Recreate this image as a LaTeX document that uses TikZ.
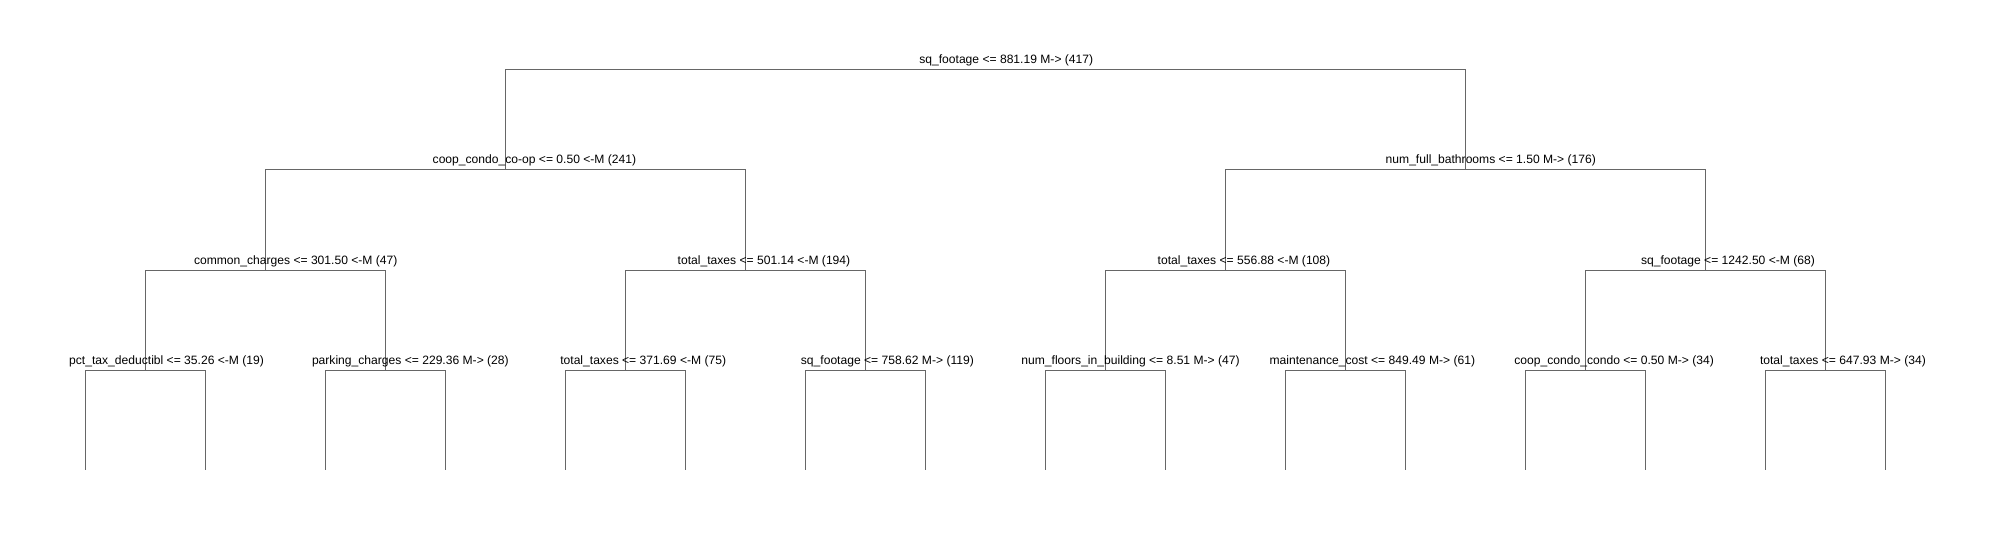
\documentclass[tikz,border=0pt]{standalone}
\usepackage{fontspec}
\setmainfont{Liberation Sans}
\tikzset{
  edge/.style={draw=black!60, line width=1pt},
  lab/.style={anchor=base west, inner sep=0pt, outer sep=0pt, text=black, font=\fontsize{12.1}{14}\selectfont}
}
\begin{document}
\begin{tikzpicture}[x=1pt,y=-1pt]
\useasboundingbox[fill=white] (0,0) rectangle (1993,540);
% split points
\coordinate (r) at (985.4,70);
\coordinate (a) at (505.4,170);  \coordinate (b) at (1465.4,170);
\coordinate (aa) at (265.4,270); \coordinate (ab) at (745.4,270);
\coordinate (ba) at (1225.4,270); \coordinate (bb) at (1705.4,270);
\coordinate (aaa) at (145.4,370); \coordinate (aab) at (385.4,370);
\coordinate (aba) at (625.4,370); \coordinate (abb) at (865.4,370);
\coordinate (baa) at (1105.4,370); \coordinate (bab) at (1345.4,370);
\coordinate (bba) at (1585.4,370); \coordinate (bbb) at (1825.4,370);
% leaves
\foreach \i in {0,...,15} { \coordinate (leaf\i) at ({85.4+120*\i},470); }
% edges
\draw[edge] (r) -| (a); \draw[edge] (r) -| (b);
\draw[edge] (a) -| (aa); \draw[edge] (a) -| (ab);
\draw[edge] (b) -| (ba); \draw[edge] (b) -| (bb);
\draw[edge] (aa) -| (aaa); \draw[edge] (aa) -| (aab);
\draw[edge] (ab) -| (aba); \draw[edge] (ab) -| (abb);
\draw[edge] (ba) -| (baa); \draw[edge] (ba) -| (bab);
\draw[edge] (bb) -| (bba); \draw[edge] (bb) -| (bbb);
\draw[edge] (aaa) -| (leaf0); \draw[edge] (aaa) -| (leaf1);
\draw[edge] (aab) -| (leaf2); \draw[edge] (aab) -| (leaf3);
\draw[edge] (aba) -| (leaf4); \draw[edge] (aba) -| (leaf5);
\draw[edge] (abb) -| (leaf6); \draw[edge] (abb) -| (leaf7);
\draw[edge] (baa) -| (leaf8); \draw[edge] (baa) -| (leaf9);
\draw[edge] (bab) -| (leaf10); \draw[edge] (bab) -| (leaf11);
\draw[edge] (bba) -| (leaf12); \draw[edge] (bba) -| (leaf13);
\draw[edge] (bbb) -| (leaf14); \draw[edge] (bbb) -| (leaf15);
% labels
\node[lab] (lr) at (919.3,64) {sq\_footage <= 881.19 M-> (417)};
\node[lab] (la) at (432.7,164) {coop\_condo\_co-op <= 0.50 <-M (241)};
\node[lab] (lb) at (1385.7,164) {num\_full\_bathrooms <= 1.50 M-> (176)};
\node[lab] (laa) at (194,264) {common\_charges <= 301.50 <-M (47)};
\node[lab] (lab) at (677.7,264) {total\_taxes <= 501.14 <-M (194)};
\node[lab] (lba) at (1157.7,264) {total\_taxes <= 556.88 <-M (108)};
\node[lab] (lbb) at (1641,264) {sq\_footage <= 1242.50 <-M (68)};
\node[lab] (laaa) at (69.2,364) {pct\_tax\_deductibl <= 35.26 <-M (19)};
\node[lab] (laab) at (312,364) {parking\_charges <= 229.36 M-> (28)};
\node[lab] (laba) at (560.3,364) {total\_taxes <= 371.69 <-M (75)};
\node[lab] (labb) at (800.9,364) {sq\_footage <= 758.62 M-> (119)};
\node[lab] (lbaa) at (1021.4,364) {num\_floors\_in\_building <= 8.51 M-> (47)};
\node[lab] (lbab) at (1269.6,364) {maintenance\_cost <= 849.49 M-> (61)};
\node[lab] (lbba) at (1514.4,364) {coop\_condo\_condo <= 0.50 M-> (34)};
\node[lab] (lbbb) at (1760,364) {total\_taxes <= 647.93 M-> (34)};
\end{tikzpicture}
\end{document}
